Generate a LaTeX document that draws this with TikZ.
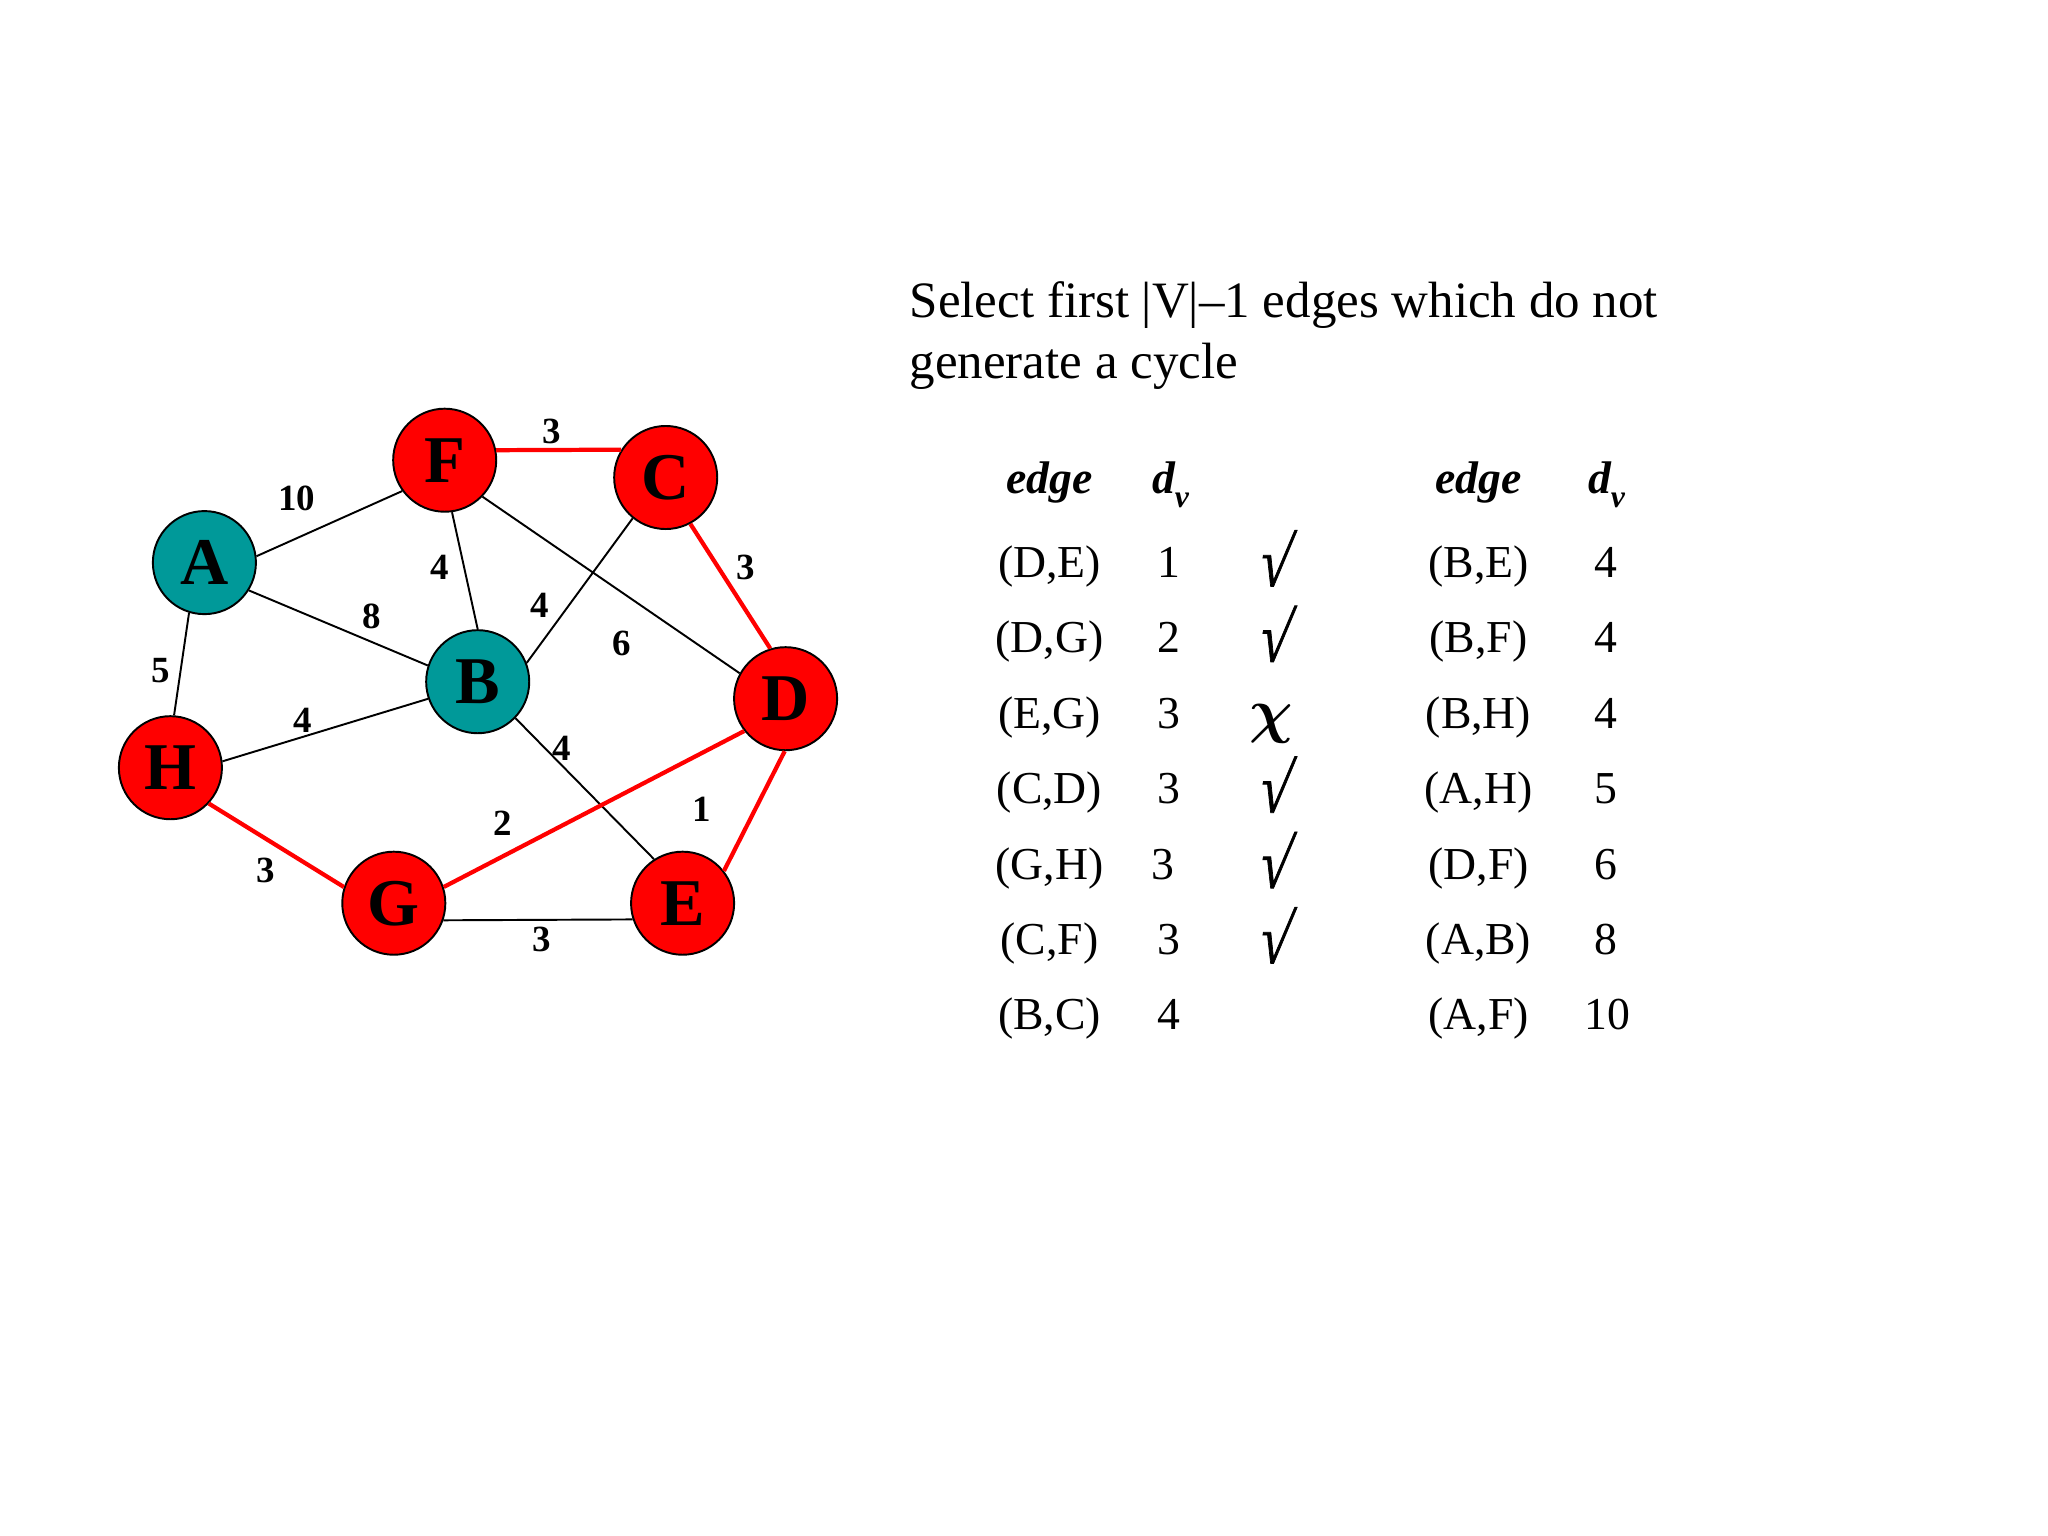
\documentclass[tikz,border=0pt]{standalone}
\usepackage{fontspec}
\setmainfont{Liberation Serif}
\newfontfamily\slantserif[FakeSlant=0.22,FakeBold=1.2]{Liberation Serif}
\definecolor{tealc}{RGB}{0,153,153}
\definecolor{redc}{RGB}{255,0,0}
\begin{document}
\begin{tikzpicture}[x=0.01cm,y=-0.01cm,
  vtx/.style={circle,draw=black,line width=0.55pt,minimum size=1.03cm,inner sep=0pt,font=\fontsize{19}{19}\selectfont\bfseries},
  rednode/.style={vtx,fill=redc},
  tealnode/.style={vtx,fill=tealc},
  thinedge/.style={line width=0.55pt,black},
  treeedge/.style={line width=1.2pt,redc},
  wlabel/.style={font=\fontsize{10.5}{10.5}\selectfont\bfseries,inner sep=0pt},
  tabtxt/.style={font=\fontsize{13}{15}\selectfont,anchor=base,inner sep=0pt},
  tabhead/.style={font=\fontsize{13}{15}\selectfont\bfseries\itshape,anchor=base,inner sep=0pt},
  okmark/.style={font=\fontsize{20}{20}\slantserif,anchor=base,inner sep=0pt},
  nomark/.style={font=\fontsize{18}{18}\selectfont\boldmath,anchor=base,inner sep=0pt},
  headtxt/.style={font=\fontsize{14.5}{17.4}\selectfont,anchor=base west,inner sep=0pt}
]
\useasboundingbox[fill=white] (0,0) rectangle (2048,1536);

% vertices
\node[tealnode] (A) at (204.4,562.6) {A};
\node[rednode]  (F) at (444.7,460.2) {F};
\node[rednode]  (C) at (665.7,477.5) {C};
\node[tealnode] (B) at (477.7,681.7) {B};
\node[rednode]  (D) at (785.6,698.7) {D};
\node[rednode]  (H) at (170.4,767.7) {H};
\node[rednode]  (G) at (393.8,903.2) {G};
\node[rednode]  (E) at (682.6,903.2) {E};

% edges
\draw[thinedge] (A.7) -- (F.216);
\draw[thinedge] (A.328) -- (B.162);
\draw[thinedge] (A.253) -- (H.86);
\draw[thinedge] (F.278) -- (B.90);
\draw[thinedge] (F.316) -- (D.151);
\draw[treeedge] (F.11) -- (C.148);
\draw[thinedge] (C.231) -- (B.21);
\draw[treeedge] (C.298) -- (D.107);
\draw[thinedge] (B.199) -- (H.7);
\draw[thinedge] (B.316) -- (E.123);
\draw[treeedge] (H.317) -- (G.162);
\draw[treeedge] (G.18) -- (D.218);
\draw[thinedge] (G.341) -- (E.198);
\draw[treeedge] (D.269) -- (E.38);

% weights
\node[wlabel] (wFC) at (551.5,431.6) {3};
\node[wlabel] (wAF) at (296.7,498.4) {10};
\node[wlabel] (wFB) at (439.9,567.2) {4};
\node[wlabel] (wAB) at (371.9,616.8) {8};
\node[wlabel] (wCB) at (539.4,605.3) {4};
\node[wlabel] (wCD) at (745.7,567.2) {3};
\node[wlabel] (wFD) at (621.9,643.6) {6};
\node[wlabel] (wAH) at (160.6,670.2) {5};
\node[wlabel] (wHB) at (303.0,719.9) {4};
\node[wlabel] (wBE) at (561.3,748.6) {4};
\node[wlabel] (wGD) at (502.9,823.0) {2};
\node[wlabel] (wDE) at (702.1,809.7) {1};
\node[wlabel] (wHG) at (266.0,870.7) {3};
\node[wlabel] (wGE) at (541.9,939.5) {3};

% heading
\node[headtxt] (h1) at (909,317) {Select first |V|–1 edges which do not};
\node[headtxt] (h2) at (909,378.5) {generate a cycle};

% table headers
\node[tabhead] (e1) at (1049.5,493.5) {edge};
\node[tabhead] (d1) at (1170.5,493.5) {d\raisebox{-0.3em}{\fontsize{9}{9}\selectfont v}};
\node[tabhead] (e2) at (1478.5,493.5) {edge};
\node[tabhead] (d2) at (1606.5,493.5) {d\raisebox{-0.3em}{\fontsize{9}{9}\selectfont v}};

% left column
\node[tabtxt] (r1a) at (1049.5,577.5) {(D,E)};
\node[tabtxt] (r1b) at (1168.5,577.5) {1};
\node[okmark] (r1c) at (1272,586) {\scalebox{0.8}[1]{√}};
\node[tabtxt] (r2a) at (1049.5,652.9) {(D,G)};
\node[tabtxt] (r2b) at (1168.5,652.9) {2};
\node[okmark] (r2c) at (1272,661.4) {\scalebox{0.8}[1]{√}};
\node[tabtxt] (r3a) at (1049.5,728.3) {(E,G)};
\node[tabtxt] (r3b) at (1168.5,728.3) {3};
\node[nomark] (r3c) at (1271,731) {$\chi$};
\node[tabtxt] (r4a) at (1049.5,803.7) {(C,D)};
\node[tabtxt] (r4b) at (1168.5,803.7) {3};
\node[okmark] (r4c) at (1272,812.2) {\scalebox{0.8}[1]{√}};
\node[tabtxt] (r5a) at (1049.5,879.1) {(G,H)};
\node[tabtxt] (r5b) at (1162.5,879.1) {3};
\node[okmark] (r5c) at (1272,887.6) {\scalebox{0.8}[1]{√}};
\node[tabtxt] (r6a) at (1049.5,954.5) {(C,F)};
\node[tabtxt] (r6b) at (1168.5,954.5) {3};
\node[okmark] (r6c) at (1272,963) {\scalebox{0.8}[1]{√}};
\node[tabtxt] (r7a) at (1049.5,1029.9) {(B,C)};
\node[tabtxt] (r7b) at (1168.5,1029.9) {4};

% right column
\node[tabtxt] (s1a) at (1478.5,577.5) {(B,E)};
\node[tabtxt] (s1b) at (1605.5,577.5) {4};
\node[tabtxt] (s2a) at (1478.5,652.9) {(B,F)};
\node[tabtxt] (s2b) at (1605.5,652.9) {4};
\node[tabtxt] (s3a) at (1478.5,728.3) {(B,H)};
\node[tabtxt] (s3b) at (1605.5,728.3) {4};
\node[tabtxt] (s4a) at (1478.5,803.7) {(A,H)};
\node[tabtxt] (s4b) at (1605.5,803.7) {5};
\node[tabtxt] (s5a) at (1478.5,879.1) {(D,F)};
\node[tabtxt] (s5b) at (1605.5,879.1) {6};
\node[tabtxt] (s6a) at (1478.5,954.5) {(A,B)};
\node[tabtxt] (s6b) at (1605.5,954.5) {8};
\node[tabtxt] (s7a) at (1478.5,1029.9) {(A,F)};
\node[tabtxt] (s7b) at (1607.5,1029.9) {10};
\end{tikzpicture}
\end{document}
